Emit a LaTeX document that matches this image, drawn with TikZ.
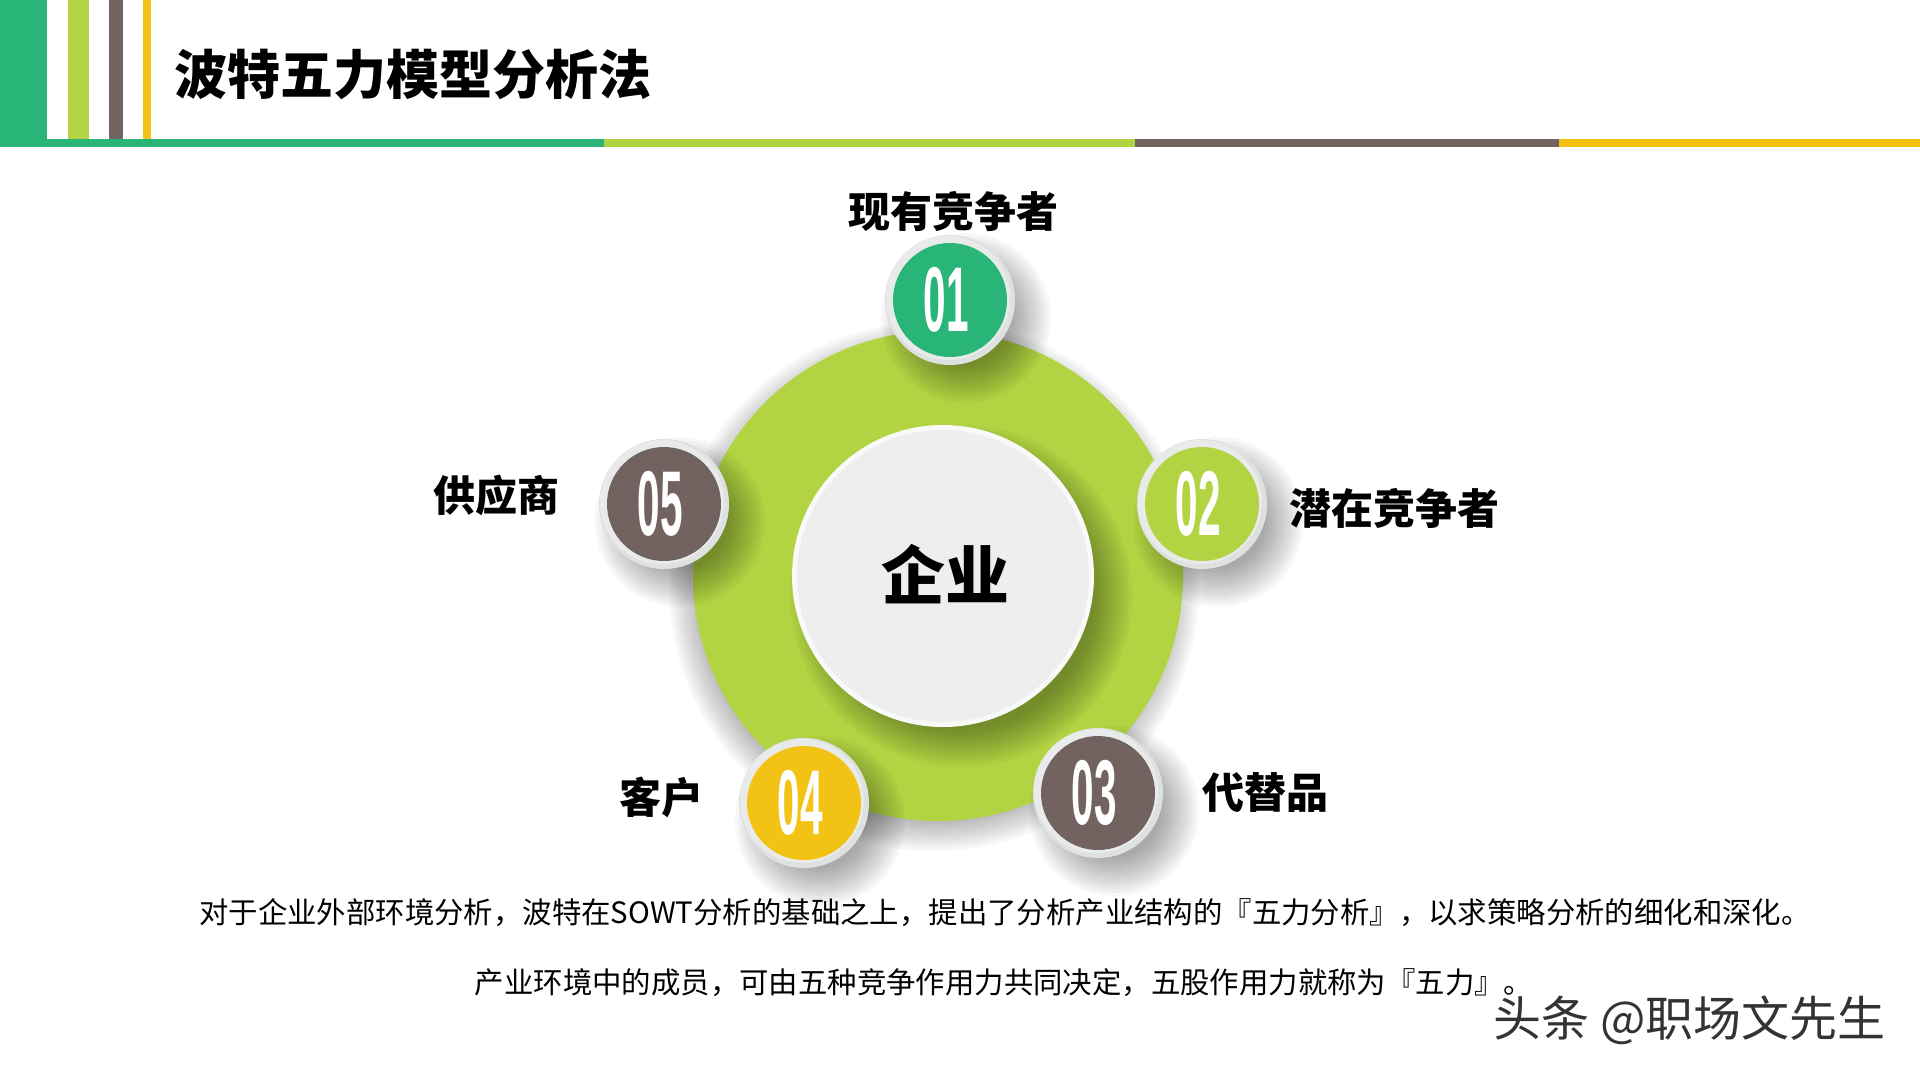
\documentclass[tikz,border=0pt]{standalone}
\usepackage{fontspec}
\usepackage{graphicx}
\setmainfont{Noto Sans CJK SC}
\newfontfamily\numfont{Liberation Sans}
\definecolor{cgreen}{RGB}{41,181,120}
\definecolor{clime}{RGB}{178,212,67}
\definecolor{cbrown}{RGB}{115,99,96}
\definecolor{cyellow}{RGB}{242,195,20}
\definecolor{crim}{RGB}{222,225,223}
\definecolor{cinner}{RGB}{238,238,238}
\definecolor{cinnerrim}{RGB}{249,249,249}
\newcommand\mydropshadow[5]{%
  \foreach \k in {0,...,11}{%
    \pgfmathsetmacro\rr{#3+20-3.4*\k}%
    \fill[black,opacity=0.03] ({#1+#4},{#2+#5}) circle[radius=\rr pt];}}
\tikzset{
  label/.style={font=\bfseries\fontsize{42}{50}\selectfont, text=black},
  numtxt/.style={font=\numfont\bfseries\fontsize{92}{92}\selectfont, text=white, inner sep=0pt},
  body/.style={font=\fontsize{29.4}{34}\selectfont, text=black, inner sep=0pt},
}
\begin{document}
\begin{tikzpicture}[x=1pt,y=-1pt]
\useasboundingbox (0,0) rectangle (1920,1080);
\fill[white] (0,0) rectangle (1920,1080);
% header
\fill[cgreen] (0,0) rectangle (47,147);
\fill[clime] (68,0) rectangle (89,140);
\fill[cbrown] (109,0) rectangle (123,140);
\fill[cyellow] (143,0) rectangle (151,140);
\fill[cgreen] (0,139) rectangle (604,147);
\fill[clime] (604,139) rectangle (1135,147);
\fill[cbrown] (1135,139) rectangle (1559,147);
\fill[cyellow] (1559,139) rectangle (1920,147);
\node[anchor=west, font=\bfseries\fontsize{53}{60}\selectfont, inner sep=0pt] (title) at (174,74) {波特五力模型分析法};
% big ring
\mydropshadow{938}{576}{245}{-4}{10}
\fill[clime] (938,576) circle[radius=245pt];
% inner circle
\mydropshadow{943}{576}{151}{18}{20}
\fill[cinnerrim] (943,576) circle[radius=151pt];
\fill[cinner] (943,576) circle[radius=146pt];
\node[font=\bfseries\fontsize{64}{70}\selectfont] (core) at (945,574) {企业};
% small circles
\foreach \n/\x/\y/\c in {01/950/300/cgreen, 02/1202/504/clime, 03/1098/793/cbrown, 04/804/803/cyellow, 05/664/504/cbrown}{
  \mydropshadow{\x}{\y}{65}{16}{18}
}
\foreach \n/\x/\y/\c in {01/950/300/cgreen, 02/1202/504/clime, 03/1098/793/cbrown, 04/804/803/cyellow, 05/664/504/cbrown}{
  \fill[crim] (\x,\y) circle[radius=65pt];
  \fill[white,opacity=0.35] (\x-2,\y-2) circle[radius=62pt];
  \fill[\c] (\x,\y) circle[radius=57pt];
  \node[numtxt] (n\n) at (\x-4,\y) {\scalebox{0.44}[1]{\n}};
}
% labels
\node[label] (l1) at (953,211) {现有竞争者};
\node[label, anchor=west] (l2) at (1286,508) {潜在竞争者};
\node[label, anchor=west] (l3) at (1199,793) {代替品};
\node[label, anchor=east] (l4) at (707,797) {客户};
\node[label, anchor=east] (l5) at (563,495) {供应商};
% body text
\node[body] (t1) at (1005,913) {对于企业外部环境分析，波特在SOWT分析的基础之上，提出了分析产业结构的『五力分析』，以求策略分析的细化和深化。};
\node[body] (t2) at (1004,983) {产业环境中的成员，可由五种竞争作用力共同决定，五股作用力就称为『五力』。};
% watermark
\node[font=\fontsize{48}{52}\selectfont, text=black!80, anchor=east, inner sep=0pt] (wm) at (1886,1020) {头条 @职场文先生};
\end{tikzpicture}
\end{document}
